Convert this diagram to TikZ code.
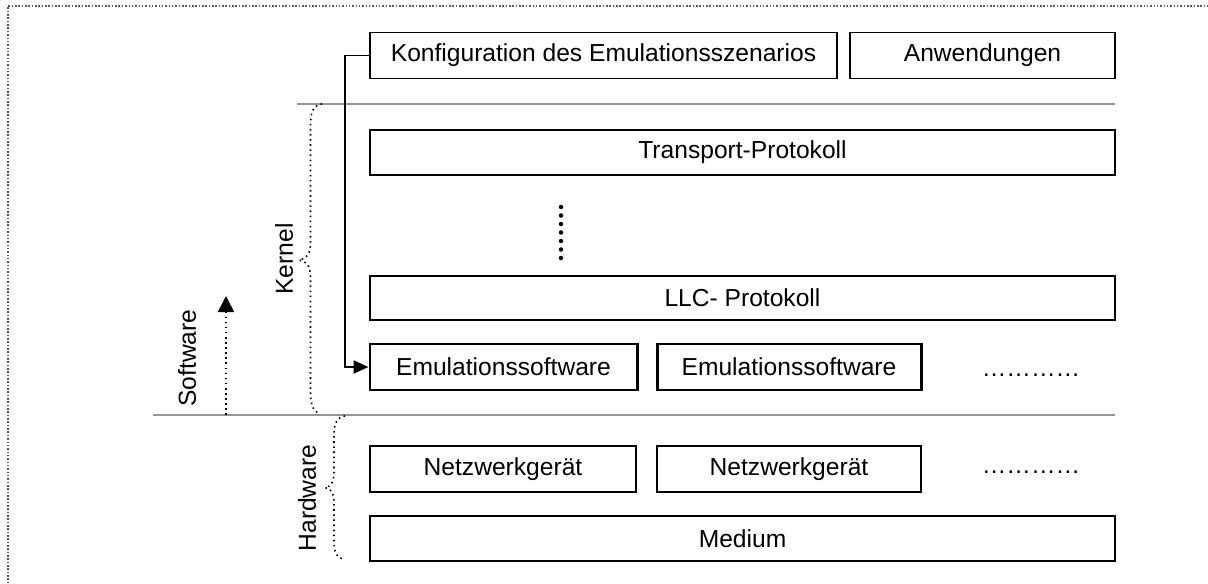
\documentclass[tikz,border=0pt]{standalone}
\usepackage{fontspec}
\setmainfont{Liberation Sans}
\usepackage{tikz}
\usetikzlibrary{arrows.meta}
\definecolor{rule}{RGB}{150, 150, 150}
\definecolor{frame}{RGB}{90, 90, 90}

\begin{document}
\begin{tikzpicture}[
    font=\fontsize{14}{16}\selectfont,
    layer/.style={draw=black, line width=1.1pt, inner sep=0pt, minimum height=0.92cm},
    emubox/.style={layer, line width=1.7pt},
    sep/.style={draw=rule, line width=1.1pt},
    pointy/.style={dotted, line width=0.9pt},
    conn/.style={line width=1.1pt, -{Triangle[length=0.3cm, width=0.26cm]}}
  ]
  \useasboundingbox (0, 0) rectangle (24.16, -11.66);
  \draw[frame, densely dotted, line width=0.9pt] (0.16, -11.8) -- (0.16, -0.12) -- (24.3, -0.12);

  % applications
  \node[layer, minimum width=9.34cm] (konfig) at (12.07, -1.11) {Konfiguration des Emulationsszenarios};
  \node[layer, minimum width=5.30cm] (anwend) at (19.65, -1.11) {Anwendungen};
  \draw[sep] (5.94, -2.08) -- (22.30, -2.08);

  % kernel
  \node[layer, minimum width=14.90cm, minimum height=0.90cm] (transport) at (14.85, -3.05) {Transport-Protokoll};
  \foreach \i in {0,...,6}
    \fill (11.22, -4.14 - 0.17*\i) circle (0.045);
  \node[layer, minimum width=14.90cm, minimum height=0.88cm] (llc) at (14.85, -5.96) {LLC- Protokoll};
  \node[emubox, minimum width=5.34cm] (emuA) at (10.07, -7.34) {Emulationssoftware};
  \node[emubox, minimum width=5.28cm] (emuB) at (15.78, -7.34) {Emulationssoftware};
  \node[anchor=base] (emuMore) at (20.62, -7.52) {…………};
  \draw[conn] (konfig.west) -- ++(-0.48, 0) |- (emuA.west);
  \draw[sep] (3.06, -8.30) -- (22.30, -8.30);

  % hardware
  \node[layer, minimum width=5.32cm] (netzA) at (10.06, -9.38) {Netzwerkgerät};
  \node[layer, minimum width=5.28cm] (netzB) at (15.78, -9.38) {Netzwerkgerät};
  \node[anchor=base] (netzMore) at (20.62, -9.46) {…………};
  \node[layer, minimum width=14.90cm, minimum height=0.90cm] (medium) at (14.85, -10.77) {Medium};

  % braces and labels
  \draw[pointy] (6.44, -2.08) .. controls (6.26, -2.10) and (6.21, -2.25) .. (6.21, -2.50)
    -- (6.21, -4.85) .. controls (6.21, -5.10) and (6.12, -5.18) .. (5.98, -5.20)
    .. controls (6.12, -5.22) and (6.21, -5.30) .. (6.21, -5.55)
    -- (6.21, -7.85) .. controls (6.21, -8.12) and (6.28, -8.24) .. (6.38, -8.26);
  \node[rotate=90] (kernel) at (5.68, -5.18) {Kernel};
  \draw[pointy] (6.90, -8.32) .. controls (6.75, -8.34) and (6.68, -8.45) .. (6.68, -8.70)
    -- (6.68, -9.42) .. controls (6.68, -9.65) and (6.62, -9.73) .. (6.50, -9.75)
    .. controls (6.62, -9.77) and (6.68, -9.85) .. (6.68, -10.08)
    -- (6.68, -10.85) .. controls (6.68, -11.08) and (6.76, -11.16) .. (6.86, -11.18);
  \node[rotate=90] (hardware) at (6.14, -9.96) {Hardware};

  \coordinate (swBase) at (4.52, -8.30);
  \coordinate (swTop) at (4.52, -5.92);
  \draw[dotted, line width=0.9pt, -{Triangle[length=0.32cm, width=0.32cm]}] (swBase) -- (swTop);
  \node[rotate=90] (software) at (3.74, -7.16) {Software};
\end{tikzpicture}
\end{document}
